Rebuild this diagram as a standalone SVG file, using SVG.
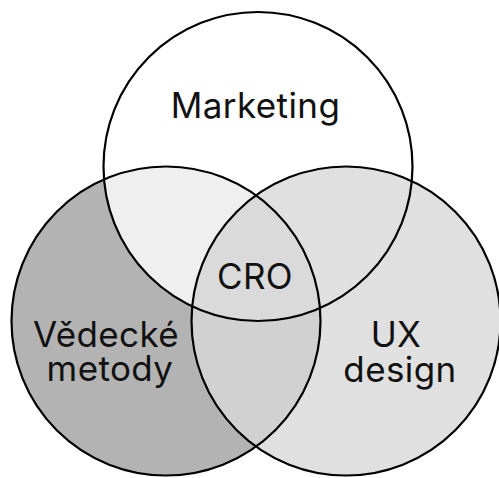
<svg xmlns="http://www.w3.org/2000/svg" width="499" height="478" viewBox="0 0 499 478">
  <style>
    .outline { fill: none; stroke: #000; stroke-width: 2.2; }
    .label { font-family: Inter, "Noto Sans", "DejaVu Sans", sans-serif; font-size: 35px; letter-spacing: 0.4px; fill: #111; text-anchor: middle; }
  </style>
  <defs>
    <circle id="cTop" cx="258" cy="166.5" r="154.5"/>
    <circle id="cLeft" cx="166" cy="321" r="154.5"/>
    <circle id="cRight" cx="346" cy="321" r="154.5"/>
    <clipPath id="clipLeft"><use href="#cLeft"/></clipPath>
    <clipPath id="clipRight"><use href="#cRight"/></clipPath>
  </defs>
  <rect width="499" height="478" fill="#ffffff"/>
  <g id="fills">
    <use href="#cLeft" fill="#b3b3b3"/>
    <use href="#cRight" fill="#e0e0e0"/>
    <use href="#cRight" fill="#d1d1d1" clip-path="url(#clipLeft)"/>
    <use href="#cTop" fill="#ffffff"/>
    <use href="#cTop" fill="#efefef" clip-path="url(#clipLeft)"/>
    <use href="#cTop" fill="#e0e0e0" clip-path="url(#clipRight)"/>
    <g clip-path="url(#clipLeft)">
      <use href="#cTop" fill="#dadada" clip-path="url(#clipRight)"/>
    </g>
  </g>
  <g id="node-vedecke-metody">
    <use href="#cLeft" class="outline"/>
    <text class="label" x="106" y="347">Vědecké</text>
    <text class="label" x="110" y="381">metody</text>
  </g>
  <g id="node-ux-design">
    <use href="#cRight" class="outline"/>
    <text class="label" x="396" y="347">UX</text>
    <text class="label" x="400" y="382">design</text>
  </g>
  <g id="node-marketing">
    <use href="#cTop" class="outline"/>
    <text class="label" x="255.5" y="118">Marketing</text>
  </g>
  <g id="node-cro">
    <text class="label" x="255" y="289">CRO</text>
  </g>
  <g id="connectors"></g>
</svg>
